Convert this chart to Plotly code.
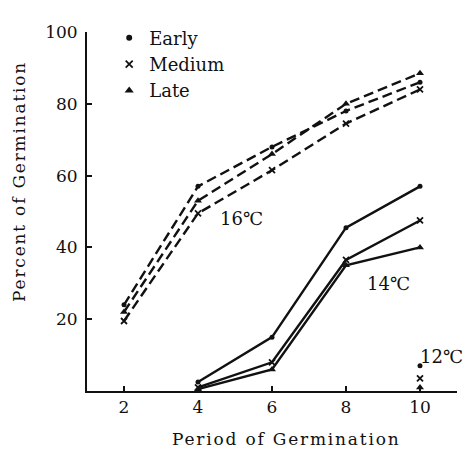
import plotly.graph_objects as go

# ---- data ----
days = [2, 4, 6, 8, 10]
early_16 = [24, 57, 68, 78, 86]
medium_16 = [19.5, 49.5, 61.5, 74.5, 84]
late_16 = [22, 53, 66, 80, 88.5]

days_14 = [4, 6, 8, 10]
early_14 = [2.5, 15, 45.5, 57]
medium_14 = [1, 8, 36.5, 47.5]
late_14 = [0.5, 6, 35, 40]

days_12 = [10]
early_12 = [7]
medium_12 = [3.5]
late_12 = [1]

series_names = ["Early", "Medium", "Late"]
x_ticks = [2, 4, 6, 8, 10]
y_ticks = [20, 40, 60, 80, 100]

FONT = "DejaVu Serif"
BLACK = "#111"
symbols = {"Early": "circle", "Medium": "x-thin-open", "Late": "triangle-up"}
sizes = {"Early": 5, "Medium": 6, "Late": 7}

fig = go.Figure()

def add(x, y, name, dash, mode="lines+markers"):
    sym = symbols[name]
    fig.add_trace(go.Scatter(
        x=x, y=y, mode=mode, showlegend=False, cliponaxis=False,
        line=dict(color=BLACK, width=2.4, dash=dash),
        marker=dict(symbol=sym, size=sizes[name], color=BLACK,
                    line=dict(color=BLACK, width=1.8 if "x" in sym else 0)),
    ))

for name, ys in zip(series_names, [early_16, medium_16, late_16]):
    add(days, ys, name, "10px,5px")
for name, ys in zip(series_names, [early_14, medium_14, late_14]):
    add(days_14, ys, name, "solid")
for name, ys in zip(series_names, [early_12, medium_12, late_12]):
    add(days_12, ys, name, "solid", mode="markers")

# legend entries (markers only)
for name in series_names:
    sym = symbols[name]
    fig.add_trace(go.Scatter(
        x=[None], y=[None], mode="markers", name=name,
        marker=dict(symbol=sym, size=sizes[name] + 1, color=BLACK,
                    line=dict(color=BLACK, width=1.8 if "x" in sym else 0)),
    ))

sp = "letter-spacing:1.8px"
annotations = [
    dict(x=5.18, y=48, xref="x", yref="y", text="16℃", showarrow=False,
         font=dict(size=18, family=FONT, color=BLACK)),
    dict(x=9.15, y=30, xref="x", yref="y", text="14℃", showarrow=False,
         font=dict(size=18, family=FONT, color=BLACK)),
    dict(x=10.59, y=9.6, xref="x", yref="y", text="12℃", showarrow=False,
         font=dict(size=18, family=FONT, color=BLACK)),
    dict(x=0.538, y=-0.134, xref="paper", yref="paper",
         text=f'<span style="{sp}">Period of Germination</span>',
         showarrow=False, xanchor="center", yanchor="middle",
         font=dict(size=17, family=FONT, color=BLACK)),
    dict(x=-0.184, y=0.585, xref="paper", yref="paper", textangle=-90,
         text=f'<span style="{sp}">Percent of Germination</span>',
         showarrow=False, xanchor="center", yanchor="middle",
         font=dict(size=17, family=FONT, color=BLACK)),
]

# page body has an 8px margin: figure is sized / offset to compensate
fig.update_layout(
    width=466, height=444,
    margin=dict(l=79, r=17, t=11, b=61),
    paper_bgcolor="white", plot_bgcolor="white",
    font=dict(family=FONT, size=17, color=BLACK),
    showlegend=True,
    legend=dict(x=0.06, y=1.035, xanchor="left", yanchor="top",
                bgcolor="rgba(0,0,0,0)", font=dict(size=18, family=FONT),
                tracegroupgap=0, itemwidth=30),
    annotations=annotations,
)
fig.update_xaxes(range=[1, 11], tickvals=x_ticks, ticks="inside", ticklen=5,
                 tickwidth=1.5, tickcolor=BLACK, showline=True, linewidth=2,
                 linecolor=BLACK, showgrid=False, zeroline=False,
                 tickfont=dict(size=17, family=FONT))
fig.update_yaxes(range=[0, 100], tickvals=y_ticks, ticks="inside", ticklen=5,
                 tickwidth=1.5, tickcolor=BLACK, showline=True, linewidth=1.8,
                 linecolor=BLACK, showgrid=False, zeroline=False,
                 tickfont=dict(size=17, family=FONT), ticklabelstandoff=4)

fig.write_html("out.html")
